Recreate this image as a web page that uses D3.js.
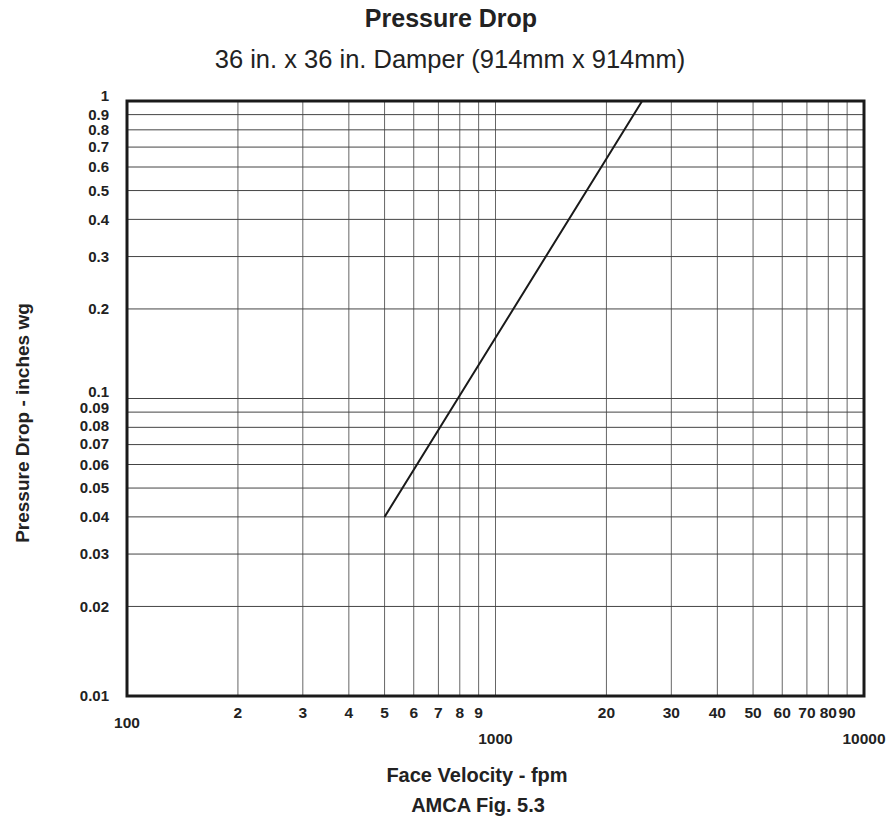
<!DOCTYPE html>
<html>
<head>
<meta charset="utf-8">
<script src="https://cdn.jsdelivr.net/npm/d3@7"></script>
<style>
  body { margin: 0; background: #fff; }
  text { font-family: "Liberation Sans", Arial, sans-serif; fill: #222; }
</style>
</head>
<body>
<div id="chart"></div>
<script>
// chart data
const velocity = [500, 1000, 2000, 2500];        // fpm
const pressure = [0.04, 0.16, 0.64, 1.0];         // inches wg

const xGrid = [200, 300, 400, 500, 600, 700, 800, 900, 1000,
               2000, 3000, 4000, 5000, 6000, 7000, 8000, 9000];
const xMinorLabels = ["2", "3", "4", "5", "6", "7", "8", "9", "",
                      "20", "30", "40", "50", "60", "70", "80", "90"];
const xMajor = [100, 1000, 10000];
const yTicks = [0.01, 0.02, 0.03, 0.04, 0.05, 0.06, 0.07, 0.08, 0.09, 0.1,
                0.2, 0.3, 0.4, 0.5, 0.6, 0.7, 0.8, 0.9, 1];

const width = 890;
const height = 819;
const plotLeft = 127, plotRight = 864, plotTop = 101, plotBottom = 696;

const svg = d3.select("#chart")
  .append("svg")
  .attr("width", width)
  .attr("height", height);

const x = d3.scaleLog().domain([100, 10000]).range([plotLeft, plotRight]);
const y = d3.scaleLog().domain([0.01, 1]).range([plotBottom, plotTop]);

// grid lines
svg.selectAll("line.vgrid")
  .data(xGrid)
  .enter().append("line")
  .attr("class", "vgrid")
  .attr("x1", d => x(d)).attr("x2", d => x(d))
  .attr("y1", plotTop).attr("y2", plotBottom)
  .style("stroke", "#666")
  .style("stroke-width", 1);

svg.selectAll("line.hgrid")
  .data(yTicks.slice(1, -1))
  .enter().append("line")
  .attr("class", "hgrid")
  .attr("x1", plotLeft).attr("x2", plotRight)
  .attr("y1", d => y(d)).attr("y2", d => y(d))
  .style("stroke", "#444")
  .style("stroke-width", 1);

// y tick labels (crowded ones nudged up a bit like the original)
function yNudge(d) {
  if (d === 1) return -5;
  if (d === 0.1) return -7;
  if (d === 0.09) return -4;
  if (d === 0.08) return -2;
  if (d === 0.07) return -1;
  return 0;
}
svg.selectAll("text.ylab")
  .data(yTicks)
  .enter().append("text")
  .attr("class", "ylab")
  .attr("x", 109)
  .attr("y", d => y(d) + yNudge(d))
  .attr("dy", "0.35em")
  .attr("text-anchor", "end")
  .style("font-size", "15px")
  .style("font-weight", "bold")
  .text(d => String(d));

// x tick labels
svg.selectAll("text.xlab")
  .data(xGrid)
  .enter().append("text")
  .attr("class", "xlab")
  .attr("x", d => x(d))
  .attr("y", 718)
  .attr("text-anchor", "middle")
  .style("font-size", "15.5px")
  .style("font-weight", "bold")
  .text((d, i) => xMinorLabels[i]);

svg.selectAll("text.xmaj")
  .data(xMajor)
  .enter().append("text")
  .attr("class", "xmaj")
  .attr("x", d => x(d))
  .attr("y", (d, i) => i === 0 ? 728 : 744)
  .attr("text-anchor", "middle")
  .style("font-size", "15.5px")
  .style("font-weight", "bold")
  .text(d => String(d));

// data line
const line = d3.line()
  .x((d, i) => x(velocity[i]))
  .y(d => y(d));

svg.append("path")
  .attr("d", line(pressure))
  .style("fill", "none")
  .style("stroke", "#1a1a1a")
  .style("stroke-width", 2);

// frame
svg.append("rect")
  .attr("x", plotLeft).attr("y", plotTop)
  .attr("width", plotRight - plotLeft).attr("height", plotBottom - plotTop)
  .style("fill", "none")
  .style("stroke", "#1a1a1a")
  .style("stroke-width", 3);

// titles
svg.append("text")
  .attr("x", 451).attr("y", 27)
  .attr("text-anchor", "middle")
  .style("font-size", "25px")
  .style("font-weight", "bold")
  .text("Pressure Drop");

svg.append("text")
  .attr("x", 450).attr("y", 68)
  .attr("text-anchor", "middle")
  .style("font-size", "25.5px")
  .text("36 in. x 36 in. Damper (914mm x 914mm)");

svg.append("text")
  .attr("transform", "translate(29,423) rotate(-90)")
  .attr("text-anchor", "middle")
  .style("font-size", "19px")
  .style("font-weight", "bold")
  .text("Pressure Drop - inches wg");

svg.append("text")
  .attr("x", 477).attr("y", 782)
  .attr("text-anchor", "middle")
  .style("font-size", "20px")
  .style("font-weight", "bold")
  .text("Face Velocity - fpm");

svg.append("text")
  .attr("x", 478).attr("y", 812)
  .attr("text-anchor", "middle")
  .style("font-size", "20px")
  .style("font-weight", "bold")
  .text("AMCA Fig. 5.3");
</script>
</body>
</html>
